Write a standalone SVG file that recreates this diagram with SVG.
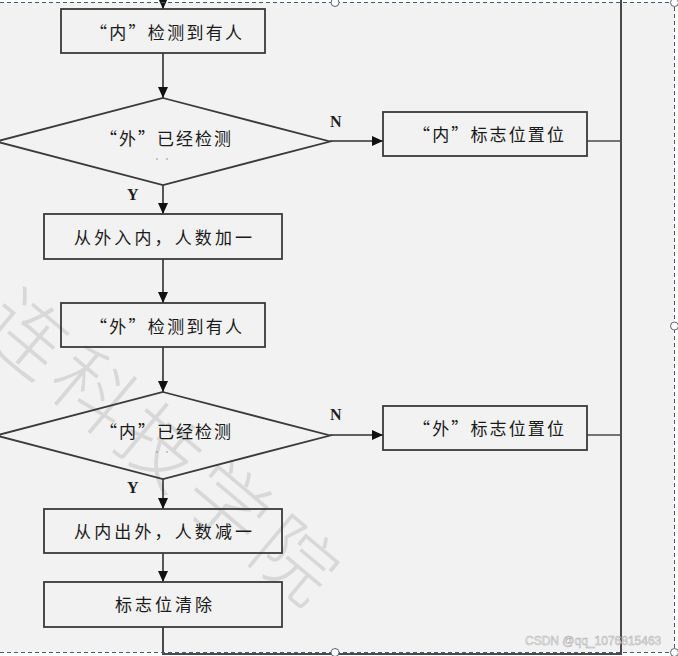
<svg xmlns="http://www.w3.org/2000/svg" width="678" height="656" viewBox="0 0 678 656">
<style>
.box{fill:none;stroke:#3a3a3a;stroke-width:1.8}
.t{font-family:"Noto Sans CJK SC","Liberation Serif",serif;font-size:17px;fill:#1a1a1a}
.lbl{font-family:"Liberation Serif",serif;font-weight:bold;font-size:16px;fill:#1e1e1e}
.ln{fill:none;stroke:#2e2e2e;stroke-width:1.6}
.side{fill:none;stroke:#4a4a4a;stroke-width:1.4}
.dash{fill:none;stroke:#4b5670;stroke-width:1;stroke-dasharray:4 3}
.hd{fill:#fff;stroke:#5a6478;stroke-width:1}
</style>
<defs>
<marker id="ah" markerUnits="userSpaceOnUse" markerWidth="11" markerHeight="10" refX="11" refY="5" orient="auto">
<path d="M0,0 L11,5 L0,10 z" fill="#111"/>
</marker>
</defs>
<rect x="0" y="0" width="678" height="656" fill="#ffffff"/>
<rect x="0" y="2" width="674" height="650" fill="#f2f2f2"/>
<g id="watermark">
<text transform="translate(25,335) rotate(40)" x="-40" y="28" font-family="Noto Sans CJK SC, sans-serif" font-size="80" font-weight="300" letter-spacing="8" fill="#d8d8d8">连科技学院</text>
</g>
<g id="connectors">
<path class="ln" d="M163,-10 V9" marker-end="url(#ah)"/>
<path class="ln" d="M163,53 V98" marker-end="url(#ah)"/>
<path class="ln" d="M330,141 H383" marker-end="url(#ah)"/>
<path class="ln" d="M163,185 V214" marker-end="url(#ah)"/>
<path class="ln" d="M163,259 V303" marker-end="url(#ah)"/>
<path class="ln" d="M163,347 V392" marker-end="url(#ah)"/>
<path class="ln" d="M330,435 H383" marker-end="url(#ah)"/>
<path class="ln" d="M163,479 V509" marker-end="url(#ah)"/>
<path class="ln" d="M163,553 V582" marker-end="url(#ah)"/>
<path class="side" d="M587,141 H621 M587,435 H621"/>
<path d="M163,627 V654 H621 V-5" fill="none" stroke="#4a4a4a" stroke-width="2"/>
<text class="lbl" x="330" y="127">N</text>
<text class="lbl" x="127" y="200">Y</text>
<text class="lbl" x="330" y="420">N</text>
<text class="lbl" x="127" y="493">Y</text>
</g>
<g id="n1">
<rect class="box" x="61" y="9" width="204" height="44"/>
<text class="t" x="90" y="39" textLength="152" lengthAdjust="spacing">“内”检测到有人</text>
</g>
<g id="d1">
<polygon class="box" points="163,98 330,141.5 163,185 -4,141.5"/>
<text class="t" x="100" y="145" textLength="131" lengthAdjust="spacing">“外”已经检测</text>
<circle cx="157" cy="159" r="0.8" fill="#888"/>
<circle cx="167" cy="159" r="0.8" fill="#888"/>
</g>
<g id="n2">
<rect class="box" x="383" y="112" width="204" height="44"/>
<text class="t" x="413" y="141" textLength="151" lengthAdjust="spacing">“内”标志位置位</text>
</g>
<g id="n3">
<rect class="box" x="44" y="214" width="238" height="45"/>
<text class="t" x="74" y="244" textLength="178" lengthAdjust="spacing">从外入内，人数加一</text>
</g>
<g id="n4">
<rect class="box" x="61" y="303" width="204" height="44"/>
<text class="t" x="90" y="333" textLength="152" lengthAdjust="spacing">“外”检测到有人</text>
</g>
<g id="d2">
<polygon class="box" points="163,392 330,435.5 163,479 -4,435.5"/>
<text class="t" x="100" y="438" textLength="131" lengthAdjust="spacing">“内”已经检测</text>
<circle cx="157" cy="452" r="0.8" fill="#888"/>
<circle cx="167" cy="452" r="0.8" fill="#888"/>
</g>
<g id="n5">
<rect class="box" x="383" y="406" width="204" height="44"/>
<text class="t" x="413" y="435" textLength="151" lengthAdjust="spacing">“外”标志位置位</text>
</g>
<g id="n6">
<rect class="box" x="44" y="509" width="238" height="44"/>
<text class="t" x="74" y="538" textLength="178" lengthAdjust="spacing">从内出外，人数减一</text>
</g>
<g id="n7">
<rect class="box" x="44" y="582" width="238" height="45"/>
<text class="t" x="115" y="611" textLength="97" lengthAdjust="spacing">标志位清除</text>
</g>
<g id="frame">
<path class="dash" d="M0,2.5 H674.5 V652.5 H0"/>
<circle class="hd" cx="335" cy="2.5" r="4"/>
<circle class="hd" cx="674.5" cy="2.5" r="4"/>
<circle class="hd" cx="674.5" cy="326" r="4"/>
<circle class="hd" cx="335" cy="652.5" r="4"/>
<circle class="hd" cx="674.5" cy="652.5" r="4"/>
</g>
<text x="525" y="645" font-family="Liberation Sans, sans-serif" font-size="12" fill="#f4f4f4" stroke="#b0b0b0" stroke-width="0.5">CSDN @qq_1076815463</text>
</svg>
